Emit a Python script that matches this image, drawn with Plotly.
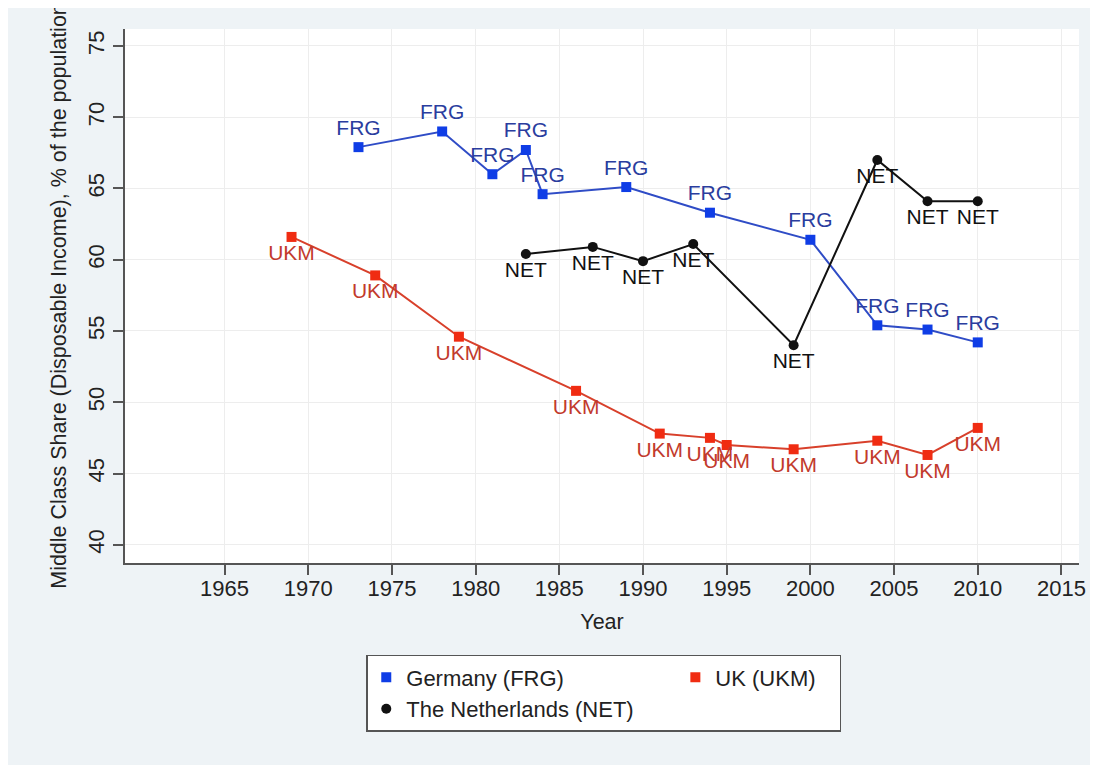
import plotly.graph_objects as go

# Middle class share (disposable income), % of the population
frg_years = [1973, 1978, 1981, 1983, 1984, 1989, 1994, 2000, 2004, 2007, 2010]
frg_share = [67.9, 69.0, 66.0, 67.7, 64.6, 65.1, 63.3, 61.4, 55.4, 55.1, 54.2]

ukm_years = [1969, 1974, 1979, 1986, 1991, 1994, 1995, 1999, 2004, 2007, 2010]
ukm_share = [61.6, 58.9, 54.6, 50.8, 47.8, 47.5, 47.0, 46.7, 47.3, 46.3, 48.2]

net_years = [1983, 1987, 1990, 1993, 1999, 2004, 2007, 2010]
net_share = [60.4, 60.9, 59.9, 61.1, 54.0, 67.0, 64.1, 64.1]

x_ticks = [1965, 1970, 1975, 1980, 1985, 1990, 1995, 2000, 2005, 2010, 2015]
y_ticks = [40, 45, 50, 55, 60, 65, 70, 75]

FONT = "Liberation Sans, Arial, Helvetica, sans-serif"
NBSP = "\u00a0"

fig = go.Figure()

# series (lines + markers + labels)
fig.add_trace(go.Scatter(
    x=frg_years, y=frg_share, mode="lines+markers+text",
    text=["FRG"] * len(frg_years), textposition="top center",
    textfont=dict(family=FONT, size=21, color="#2a3d9e"),
    line=dict(color="#2f4cc6", width=2),
    marker=dict(symbol="square", size=10, color="#0f3de6"),
    showlegend=False, cliponaxis=False))

fig.add_trace(go.Scatter(
    x=ukm_years, y=ukm_share, mode="lines+markers+text",
    text=["UKM"] * len(ukm_years), textposition="bottom center",
    textfont=dict(family=FONT, size=21, color="#c23a2c"),
    line=dict(color="#d8402b", width=2),
    marker=dict(symbol="square", size=10, color="#f02c12"),
    showlegend=False, cliponaxis=False))

fig.add_trace(go.Scatter(
    x=net_years, y=net_share, mode="lines+markers+text",
    text=["NET"] * len(net_years), textposition="bottom center",
    textfont=dict(family=FONT, size=21, color="#111111"),
    line=dict(color="#111111", width=2),
    marker=dict(symbol="circle", size=10, color="#111111"),
    showlegend=False, cliponaxis=False))

# legend entries (marker only), two columns via legend groups
fig.add_trace(go.Scatter(x=[None], y=[None], mode="markers", name="Germany (FRG)",
                         legendgroup="a",
                         marker=dict(symbol="square", size=10, color="#0f3de6")))
fig.add_trace(go.Scatter(x=[None], y=[None], mode="markers", name="UK (UKM)" + NBSP * 3,
                         legendgroup="b",
                         marker=dict(symbol="square", size=10, color="#f02c12")))
fig.add_trace(go.Scatter(x=[None], y=[None], mode="markers",
                         name="The Netherlands (NET)" + NBSP * 6,
                         legendgroup="a",
                         marker=dict(symbol="circle", size=10, color="#111111")))

fig.update_layout(
    width=1090, height=757,
    margin=dict(l=117, r=16, t=21, b=202),
    paper_bgcolor="#eef3f6",
    plot_bgcolor="#ffffff",
    font=dict(family=FONT, size=22, color="#222222"),
    legend=dict(
        orientation="h", traceorder="grouped", tracegroupgap=0,
        x=0.2529, xanchor="left", y=-0.172, yanchor="top",
        bgcolor="#ffffff", bordercolor="#555555", borderwidth=1.5,
        font=dict(family=FONT, size=22, color="#222222"),
    ),
    xaxis=dict(
        range=[1959.05, 2016.05], tickvals=x_ticks,
        ticks="outside", ticklen=10, tickcolor="#555555", tickwidth=1.5,
        ticklabelstandoff=-5,
        showline=True, linecolor="#555555", linewidth=1.5,
        showgrid=True, gridcolor="#ededed", gridwidth=1, zeroline=False,
        title=dict(text="Year", standoff=14, font=dict(size=21.5)),
    ),
    yaxis=dict(
        range=[38.72, 76.19], tickvals=y_ticks, tickangle=-90,
        ticks="outside", ticklen=10, tickcolor="#555555", tickwidth=1.5,
        showline=True, linecolor="#555555", linewidth=1.5,
        showgrid=True, gridcolor="#ededed", gridwidth=1, zeroline=False,
        title=dict(text="Middle Class Share (Disposable Income), % of the population",
                   standoff=12, font=dict(size=21.5)),
    ),
)

fig.write_html("out.html")
